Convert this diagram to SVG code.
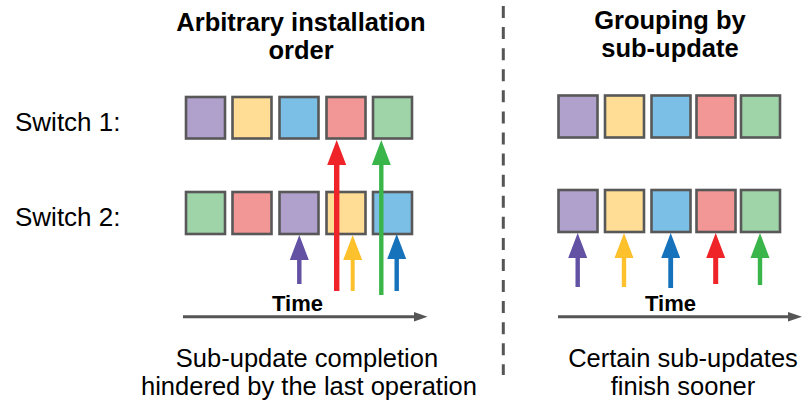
<svg xmlns="http://www.w3.org/2000/svg" width="805" height="408" viewBox="0 0 805 408">
  <style>
    .title { font-family: "Liberation Sans", Arial, sans-serif; font-weight: bold; font-size: 25.5px; fill: #000; text-anchor: middle; }
    .label { font-family: "Liberation Sans", Arial, sans-serif; font-size: 26px; fill: #000; }
    .caption { font-family: "Liberation Sans", Arial, sans-serif; font-size: 25.5px; fill: #000; text-anchor: middle; }
    .time { font-family: "Liberation Sans", Arial, sans-serif; font-weight: bold; font-size: 22px; fill: #000; text-anchor: middle; }
    .box { stroke: #585858; stroke-width: 2.6; }
    .purple { fill: #b0a0cc; }
    .yellow { fill: #ffdd94; }
    .blue { fill: #7bbfe7; }
    .red { fill: #f39696; }
    .green { fill: #9fd3a8; }
    .axis { stroke: #555; stroke-width: 3; fill: none; }
    .axis-head { fill: #555; }
    .divider { stroke: #555; stroke-width: 3; stroke-dasharray: 12 9.08; }
  </style>

  <!-- headings -->
  <g id="heading-left">
    <text class="title" x="301" y="31">Arbitrary installation</text>
    <text class="title" x="301" y="59">order</text>
  </g>
  <g id="heading-right">
    <text class="title" x="670" y="29">Grouping by</text>
    <text class="title" x="670" y="57">sub-update</text>
  </g>

  <!-- row labels -->
  <g id="label-switch1"><text class="label" x="15" y="131">Switch 1:</text></g>
  <g id="label-switch2"><text class="label" x="15" y="226">Switch 2:</text></g>

  <!-- dashed divider between the two scenarios -->
  <line class="divider" x1="503.3" y1="6" x2="503.3" y2="375"/>

  <!-- left scenario: switch 1 rules -->
  <g id="left-s1">
    <rect id="l1-purple" class="box purple" x="186" y="97" width="39" height="41.5"/>
    <rect id="l1-yellow" class="box yellow" x="232.5" y="97" width="39" height="41.5"/>
    <rect id="l1-blue" class="box blue" x="279.5" y="97" width="39" height="41.5"/>
    <rect id="l1-red" class="box red" x="326.5" y="97" width="39" height="41.5"/>
    <rect id="l1-green" class="box green" x="373" y="97" width="39" height="41.5"/>
  </g>
  <!-- left scenario: switch 2 rules -->
  <g id="left-s2">
    <rect id="l2-green" class="box green" x="186" y="192" width="39" height="42"/>
    <rect id="l2-red" class="box red" x="232.5" y="192" width="39" height="42"/>
    <rect id="l2-purple" class="box purple" x="279.5" y="192" width="39" height="42"/>
    <rect id="l2-yellow" class="box yellow" x="326.5" y="192" width="39" height="42"/>
    <rect id="l2-blue" class="box blue" x="373" y="192" width="39" height="42"/>
  </g>

  <!-- right scenario: switch 1 rules -->
  <g id="right-s1">
    <rect id="r1-purple" class="box purple" x="558.5" y="95.5" width="39" height="42"/>
    <rect id="r1-yellow" class="box yellow" x="605" y="95.5" width="39" height="42"/>
    <rect id="r1-blue" class="box blue" x="651.5" y="95.5" width="39" height="42"/>
    <rect id="r1-red" class="box red" x="696.5" y="95.5" width="39" height="42"/>
    <rect id="r1-green" class="box green" x="741" y="95.5" width="39" height="42"/>
  </g>
  <!-- right scenario: switch 2 rules -->
  <g id="right-s2">
    <rect id="r2-purple" class="box purple" x="558.5" y="190" width="39" height="42"/>
    <rect id="r2-yellow" class="box yellow" x="605" y="190" width="39" height="42"/>
    <rect id="r2-blue" class="box blue" x="651.5" y="190" width="39" height="42"/>
    <rect id="r2-red" class="box red" x="696.5" y="190" width="39" height="42"/>
    <rect id="r2-green" class="box green" x="741" y="190" width="39" height="42"/>
  </g>

  <!-- installation arrows (connectors) -->
  <g id="connectors">
    <!-- left: arbitrary order -->
    <path id="a-l-purple" fill="#6351a3" d="M297.1,284 V260 H289.8 L299.3,235 L308.8,260 H301.5 V284 Z"/>
    <path id="a-l-red" fill="#ee2428" d="M334,291 V165 H327.2 L336.7,140 L346.2,165 H339.4 V291 Z"/>
    <path id="a-l-yellow" fill="#fdc12e" d="M350.7,291 V260 H343.2 L352.7,235 L362.2,260 H354.7 V291 Z"/>
    <path id="a-l-green" fill="#3ab54a" d="M379.1,295 V165 H371.8 L381.3,140 L390.8,165 H383.5 V295 Z"/>
    <path id="a-l-blue" fill="#1572bb" d="M394.5,291 V259 H387.2 L396.7,234 L406.2,259 H398.9 V291 Z"/>
    <!-- right: grouped by sub-update -->
    <path id="a-r-purple" fill="#6351a3" d="M575.5,287 V258 H568.2 L577.7,233 L587.2,258 H579.9 V287 Z"/>
    <path id="a-r-yellow" fill="#fdc12e" d="M621.8,287 V258 H614.5 L624,233 L633.5,258 H626.2 V287 Z"/>
    <path id="a-r-blue" fill="#1572bb" d="M668.3,288 V258 H661.2 L670.7,233 L680.2,258 H673.1 V288 Z"/>
    <path id="a-r-red" fill="#ee2428" d="M713.2,284 V258 H706.2 L715.7,233 L725.2,258 H718.2 V284 Z"/>
    <path id="a-r-green" fill="#3ab54a" d="M757.8,285 V258 H750.5 L760,233 L769.5,258 H762.2 V285 Z"/>

    <!-- time axes -->
    <line class="axis" x1="183" y1="316.7" x2="416" y2="316.7"/>
    <path class="axis-head" d="M414,312 L427.5,316.7 L414,321.4 Z"/>
    <line class="axis" x1="558" y1="316.7" x2="790" y2="316.7"/>
    <path class="axis-head" d="M788,312 L802,316.7 L788,321.4 Z"/>
  </g>

  <!-- time labels -->
  <text class="time" x="297.5" y="310.5">Time</text>
  <text class="time" x="670.5" y="310.5">Time</text>

  <!-- captions -->
  <g id="caption-left">
    <text class="caption" x="307" y="367">Sub-update completion</text>
    <text class="caption" x="309" y="395">hindered by the last operation</text>
  </g>
  <g id="caption-right">
    <text class="caption" x="683" y="367">Certain sub-updates</text>
    <text class="caption" x="683" y="395">finish sooner</text>
  </g>
</svg>
